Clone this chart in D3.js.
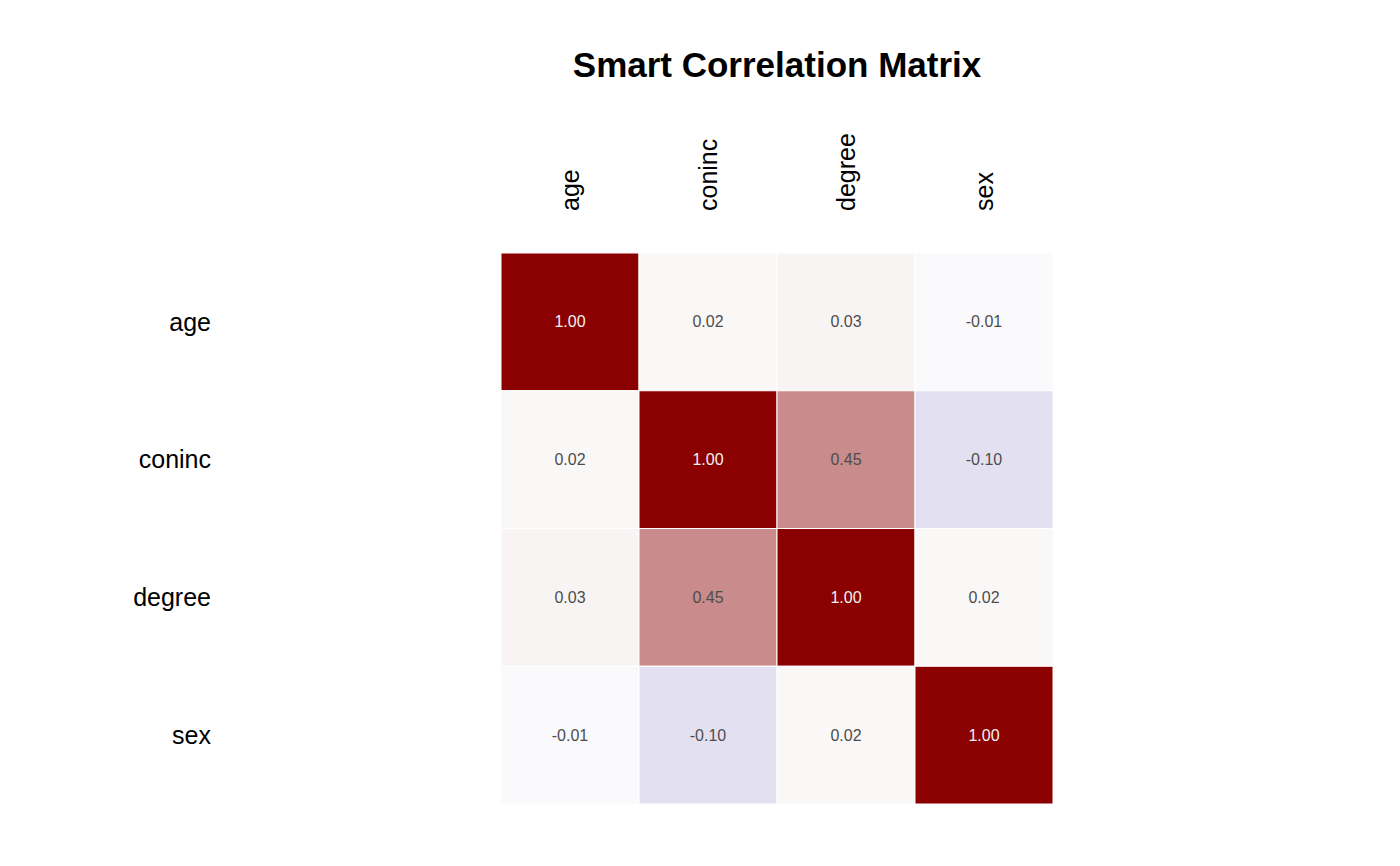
<!DOCTYPE html>
<html>
<head>
<meta charset="utf-8">
<script src="https://cdn.jsdelivr.net/npm/d3@7"></script>
<style>
  body { margin: 0; background: #fff; }
  text { font-family: "Liberation Sans", Arial, sans-serif; }
</style>
</head>
<body>
<div id="chart"></div>
<script>
// variables, in row / column order
var variables = ["age", "coninc", "degree", "sex"];

// correlation matrix rows
var rowAge    = [1.00, 0.02, 0.03, -0.01];
var rowConinc = [0.02, 1.00, 0.45, -0.10];
var rowDegree = [0.03, 0.45, 1.00, 0.02];
var rowSex    = [-0.01, -0.10, 0.02, 1.00];
var matrix = [rowAge, rowConinc, rowDegree, rowSex];

var chartTitle = "Smart Correlation Matrix";

var width = 1400, height = 866;
var margin = { top: 253, left: 501, right: 347, bottom: 62 };
var gridW = width - margin.left - margin.right,
    gridH = height - margin.top - margin.bottom;

var svg = d3.select("#chart").append("svg")
    .attr("width", width)
    .attr("height", height);

var g = svg.append("g")
    .attr("transform", "translate(" + margin.left + "," + margin.top + ")");

// Scales
var x = d3.scaleBand().domain(variables).range([0, gridW]);
var y = d3.scaleBand().domain(variables).range([0, gridH]);

var cells = [];
matrix.forEach(function(row, i) {
    row.forEach(function(v, j) {
        cells.push({ row: variables[i], col: variables[j], value: v });
    });
});

var minVal = d3.min(cells, function(d) { return d.value; });
var color = d3.scaleLinear()
    .domain([minVal, 0, 1])
    .range(["#e3e1f1", "#fcfcfc", "#8b0000"]);

// Cells
g.selectAll("rect")
    .data(cells)
    .enter()
    .append("rect")
    .attr("x", function(d) { return x(d.col); })
    .attr("y", function(d) { return y(d.row); })
    .attr("width", x.bandwidth())
    .attr("height", y.bandwidth())
    .attr("fill", function(d) { return color(d.value); })
    .attr("stroke", "#ffffff")
    .attr("stroke-width", 1);

g.selectAll("text.val")
    .data(cells)
    .enter()
    .append("text")
    .attr("class", "val")
    .attr("x", function(d) { return x(d.col) + x.bandwidth() / 2; })
    .attr("y", function(d) { return y(d.row) + y.bandwidth() / 2; })
    .attr("dy", "0.35em")
    .attr("text-anchor", "middle")
    .attr("font-size", 16)
    .attr("fill", function(d) { return Math.abs(d.value) > 0.7 ? "#f2f2f2" : "#4d4d4d"; })
    .text(function(d) { return d.value.toFixed(2); });

// Column labels (rotated)
g.selectAll("text.col")
    .data(variables)
    .enter()
    .append("text")
    .attr("class", "col")
    .attr("transform", function(d) {
        return "translate(" + (x(d) + x.bandwidth() / 2) + "," + (-42) + ") rotate(-90)";
    })
    .attr("dy", "0.35em")
    .attr("text-anchor", "start")
    .attr("font-size", 25)
    .attr("fill", "#000")
    .text(function(d) { return d; });

// Row labels
svg.selectAll("text.row")
    .data(variables)
    .enter()
    .append("text")
    .attr("class", "row")
    .attr("x", 211)
    .attr("y", function(d) { return margin.top + y(d) + y.bandwidth() / 2; })
    .attr("dy", "0.35em")
    .attr("text-anchor", "end")
    .attr("font-size", 25)
    .attr("fill", "#000")
    .text(function(d) { return d; });

// Title
svg.append("text")
    .attr("x", margin.left + gridW / 2)
    .attr("y", 77)
    .attr("text-anchor", "middle")
    .attr("font-size", 35)
    .attr("font-weight", "bold")
    .attr("fill", "#000")
    .text(chartTitle);
</script>
</body>
</html>
